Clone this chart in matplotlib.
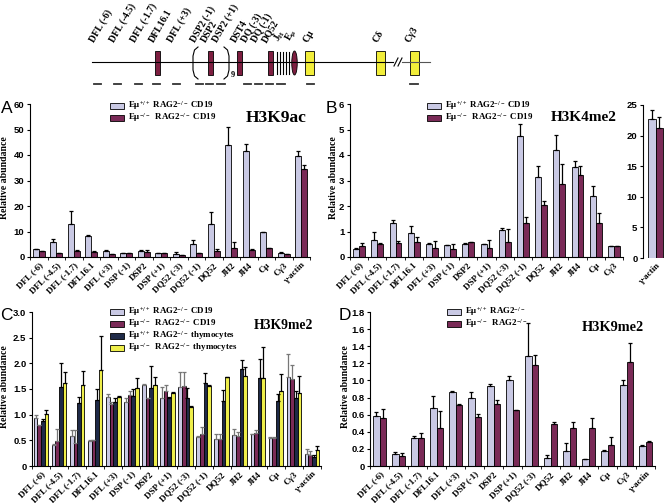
import numpy as np
import matplotlib.pyplot as plt
from matplotlib.patches import Rectangle, Ellipse

plt.rcParams['mathtext.default'] = 'regular'

SERIF = 'Liberation Serif'
SANS = 'Liberation Sans'
W, H = 664, 503

light = '#c9c9e4'
maroon = '#7a2a57'
navy = '#1f2a48'
yellow = '#eeee4a'

# ---- данные: панель A (H3K9ac)
cats_a = ['DFL (-6)', 'DFL (-4.5)', 'DFL (-1.7)', 'DFL16.1', 'DFL (+3)', 'DSP (-1)', 'DSP2',
          'DSP (+1)', 'DQ52 (-3)', 'DQ52 (-1)', 'DQ52', 'JH2', 'JH4', 'Cμ', 'Cγ3', 'γ-actin']
a_wt = [3.0, 5.9, 13.1, 8.1, 2.3, 1.4, 2.3, 1.5, 1.2, 5.2, 13.0, 44.0, 41.5, 9.8, 1.6, 39.5]
a_wt_err = [3.3, 7.0, 18.0, 8.5, 2.6, 1.4, 2.7, 1.5, 1.8, 6.8, 17.5, 51.0, 44.5, 9.8, 1.8, 41.5]
a_ko = [2.2, 1.5, 2.5, 2.0, 1.2, 1.4, 2.0, 1.5, 0.8, 1.4, 2.5, 3.5, 2.8, 3.5, 1.2, 34.5]
a_ko_err = [2.2, 1.5, 2.7, 2.4, 1.2, 1.4, 2.7, 1.5, 0.8, 1.4, 3.0, 6.0, 3.3, 3.5, 1.2, 36.0]

# ---- панель B (H3K4me2), γ-actin отдельно
cats_b = cats_a[:15]
b_wt = [0.33, 0.68, 1.35, 0.93, 0.52, 0.47, 0.50, 0.52, 1.05, 4.75, 3.12, 4.20, 3.52, 2.38, 0.42]
b_wt_err = [0.36, 1.00, 1.45, 1.20, 0.54, 0.49, 0.53, 0.52, 1.13, 5.20, 3.55, 4.80, 3.75, 2.77, 0.45]
b_ko = [0.43, 0.52, 0.55, 0.60, 0.37, 0.32, 0.58, 0.37, 0.60, 1.33, 2.03, 2.85, 3.20, 1.32, 0.42]
b_ko_err = [0.55, 0.56, 0.62, 0.78, 0.63, 0.50, 0.60, 0.66, 1.10, 1.57, 2.18, 3.63, 3.57, 1.74, 0.45]
b_actin = [22.7, 21.3]
b_actin_err = [24.2, 23.1]

# ---- панель C (H3K9me2, 4 серии)
cats_c = cats_a
c_vals = [
    [0.94, 0.40, 0.58, 0.48, 1.34, 1.24, 1.58, 1.32, 1.54, 0.56, 0.52, 0.61, 0.62, 0.54, 1.73, 0.23],
    [0.80, 0.48, 0.45, 0.50, 1.20, 1.39, 1.33, 1.46, 1.55, 0.63, 0.52, 0.58, 0.64, 0.54, 1.69, 0.22],
    [0.88, 1.53, 1.22, 1.28, 1.24, 1.36, 1.52, 1.32, 1.32, 1.61, 1.27, 1.88, 1.72, 1.26, 1.33, 0.17],
    [1.02, 1.61, 1.57, 1.87, 1.35, 1.52, 1.58, 1.42, 1.15, 1.55, 1.73, 1.76, 1.72, 1.47, 1.43, 0.31],
]
c_err = [
    [1.00, 0.42, 0.70, 0.50, 1.41, 1.32, 1.60, 1.53, 1.83, 0.58, 0.63, 0.72, 0.63, 0.56, 2.19, 0.34],
    [0.80, 0.72, 0.70, 0.50, 1.25, 1.46, 1.33, 1.58, 1.84, 0.76, 0.63, 0.66, 0.70, 0.56, 1.96, 0.30],
    [0.92, 2.00, 1.35, 1.50, 1.33, 1.50, 1.94, 1.35, 1.51, 1.82, 1.48, 2.06, 2.08, 1.41, 1.47, 0.22],
    [1.10, 1.83, 1.86, 2.53, 1.37, 1.71, 1.74, 1.44, 1.16, 1.58, 1.74, 1.93, 2.31, 1.80, 1.76, 0.38],
]

# ---- панель D (H3K9me2, без DQ52 (-1))
cats_d = [c for c in cats_a if c != 'DQ52 (-1)']
d_wt = [0.59, 0.14, 0.33, 0.68, 0.86, 0.79, 0.94, 1.01, 1.28, 0.09, 0.17, 0.08, 0.17, 0.95, 0.23]
d_wt_err = [0.63, 0.16, 0.35, 0.82, 0.88, 0.86, 0.96, 1.05, 1.67, 0.13, 0.27, 0.08, 0.19, 1.00, 0.24]
d_ko = [0.56, 0.12, 0.33, 0.45, 0.71, 0.57, 0.73, 0.65, 1.18, 0.49, 0.45, 0.45, 0.25, 1.22, 0.28]
d_ko_err = [0.67, 0.15, 0.39, 0.64, 0.72, 0.61, 0.77, 0.66, 1.30, 0.51, 0.51, 0.56, 0.34, 1.44, 0.29]

leg_cd19 = ['Eμ$^{+/+}$ RAG2$^{-/-}$ CD19', 'Eμ$^{-/-}$  RAG2$^{-/-}$ CD19']
leg_thy = ['Eμ$^{+/+}$ RAG2$^{-/-}$ thymocytes', 'Eμ$^{-/-}$  RAG2$^{-/-}$ thymocytes']
leg_d = ['Eμ$^{+/+}$ RAG2$^{-/-}$', 'Eμ$^{-/-}$  RAG2$^{-/-}$']


def rect(x0, y0, x1, y1):
    # пиксели -> доли фигуры
    return [x0 / W, 1 - y1 / H, (x1 - x0) / W, (y1 - y0) / H]


def bars(ax, series, tops, colors, width, ecolors):
    n = len(series)
    x = np.arange(len(series[0]))
    for k in range(n):
        pos = x + (k - (n - 1) / 2) * width
        v = np.array(series[k])
        t = np.array(tops[k])
        ax.bar(pos, v, width, color=colors[k], edgecolor='black', linewidth=0.6, zorder=2)
        ax.errorbar(pos, v, yerr=[np.zeros_like(v), np.clip(t - v, 0, None)], fmt='none',
                    ecolor=ecolors[k], elinewidth=0.9, capsize=1.5, capthick=0.9, zorder=3)


def style(ax, cats, yticks, ylabels, ylim):
    n = len(cats)
    ax.set_xlim(-0.5, n - 0.5)
    ax.set_ylim(*ylim)
    for s in ['top', 'right']:
        ax.spines[s].set_visible(False)
    ax.set_xticks(range(n))
    ax.set_xticklabels(cats, rotation=45, ha='right', rotation_mode='anchor',
                       fontfamily=SERIF, fontweight='bold', fontsize=6.5)
    ax.set_xticks(np.arange(n + 1) - 0.5, minor=True)
    ax.tick_params(axis='x', which='major', length=0, pad=3)
    ax.tick_params(axis='x', which='minor', length=2.5)
    ax.set_yticks(yticks)
    ax.set_yticklabels(ylabels, fontfamily=SANS, fontweight='bold', fontsize=6.8)
    ax.tick_params(axis='y', length=2.5, pad=1.5)


def legend(x, ys, labels, colors):
    for y, lab, c in zip(ys, labels, colors):
        fig.add_artist(Rectangle((x / W, 1 - (y + 3) / H), 14 / W, 6 / H, facecolor=c,
                                 edgecolor='black', linewidth=0.6, transform=fig.transFigure))
        fig.text((x + 18) / W, 1 - y / H, lab, fontfamily=SERIF, fontweight='bold',
                 fontsize=6.4, va='center', ha='left')


def ylabel(x, y):
    fig.text(x / W, 1 - y / H, 'Relative abundance', rotation=90, ha='center', va='center',
             fontfamily=SERIF, fontweight='bold', fontsize=7)


def letter(x, y, s):
    fig.text(x / W, 1 - y / H, s, fontfamily=SANS, fontsize=12.5, va='top')


fig = plt.figure(figsize=(W / 100, H / 100), dpi=100)

# ---- схема локуса
axd = fig.add_axes([0, 1 - 95 / H, 1, 95 / H])
axd.set_xlim(0, W)
axd.set_ylim(95, 0)
axd.axis('off')
axd.plot([92, 393], [62, 62], color='black', lw=0.8)
axd.plot([402, 430], [62, 62], color='#555555', lw=0.8)
for dx in [0, 4]:
    axd.plot([394 + dx, 398 + dx], [66, 58], color='black', lw=0.8)
box_maroon = [157, 210.5, 239.5, 270]
for xc in box_maroon:
    axd.add_patch(Rectangle((xc - 2.5, 51), 5, 24, facecolor='#7d1e40', edgecolor='black', lw=0.6))
jh_x = [277, 280, 283, 286, 289]
for xj in jh_x:
    axd.plot([xj, xj], [52, 74], color='black', lw=0.8)
axd.add_patch(Ellipse((294.5, 63), 5.5, 24, facecolor='#7d1e40', edgecolor='black', lw=0.6))
box_yellow = [309.5, 380.5, 414.5]
for xc in box_yellow:
    axd.add_patch(Rectangle((xc - 4.5, 51), 9, 24, facecolor='#f2ee3a', edgecolor='black', lw=0.6))
axd.plot([198, 194.5, 193, 193, 194.5, 198], [47, 50, 56, 70, 76, 79], color='black', lw=0.8)
axd.plot([224, 227.5, 229, 229, 227.5, 224], [47, 50, 56, 70, 76, 79], color='black', lw=0.8)
axd.text(231, 77, '9', fontfamily=SERIF, fontweight='bold', fontsize=6)
diag_labels = ['DFL (-6)', 'DFL (-4.5)', 'DFL (-1.7)', 'DFL16.1', 'DFL (+3)', 'DSP2 (-1)', 'DSP2',
               'DSP2 (+1)', 'DST4', 'DQ (-3)', 'DQ (-1)', 'DQ52', 'J$_{H}$', 'E$_{μ}$', 'Cμ', 'Cδ', 'Cγ3']
diag_x = [96, 116, 137, 156, 174, 197, 208, 219, 238, 248, 258, 268, 282, 294, 309, 379, 411]
for lab, xl in zip(diag_labels, diag_x):
    axd.text(xl, 44, lab, rotation=60, rotation_mode='anchor', ha='left', va='bottom',
             fontfamily=SERIF, fontweight='bold', fontsize=7)
dash_x = [(94, 101), (114, 121), (135, 142), (153, 160), (173, 180), (196, 203), (206, 213),
          (217, 225), (244, 251), (255, 262), (266, 273), (277, 285), (307, 314), (410, 418)]
for x0, x1 in dash_x:
    axd.plot([x0, x1], [84, 84], color='#333333', lw=1.3)

# ---- A
axA = fig.add_axes(rect(30, 104, 310, 257))
bars(axA, [a_wt, a_ko], [a_wt_err, a_ko_err], [light, maroon], 0.33, ['black', 'black'])
style(axA, cats_a, range(0, 61, 10), [str(v) for v in range(0, 61, 10)], (0, 60))
axA.text(0.88, 0.91, 'H3K9ac', transform=axA.transAxes, ha='center', va='center',
         fontfamily=SERIF, fontweight='bold', fontsize=12.5)
legend(110, [106, 118], leg_cd19, [light, maroon])
ylabel(5, 178)
letter(1, 101, 'A')

# ---- B
axB = fig.add_axes(rect(350, 104, 623, 257))
bars(axB, [b_wt, b_ko], [b_wt_err, b_ko_err], [light, maroon], 0.32, ['black', 'black'])
style(axB, cats_b, range(0, 7), [str(v) for v in range(0, 7)], (0, 6))
axB.text(0.855, 0.91, 'H3K4me2', transform=axB.transAxes, ha='center', va='center',
         fontfamily=SERIF, fontweight='bold', fontsize=11)
legend(427, [106, 118], leg_cd19, [light, maroon])
ylabel(333, 178)
letter(326, 101, 'B')

axB2 = fig.add_axes(rect(643, 105, 668, 258))
bars(axB2, [[b_actin[0]], [b_actin[1]]], [[b_actin_err[0]], [b_actin_err[1]]], [light, maroon], 0.33,
     ['black', 'black'])
style(axB2, ['γ-actin'], range(0, 26, 5), [str(v) for v in range(0, 26, 5)], (0, 25))
axB2.set_xlim(-0.55, 0.55)
axB2.spines['bottom'].set_visible(False)
axB2.tick_params(axis='x', which='minor', length=0)

# ---- C
axC = fig.add_axes(rect(32, 312, 321, 466))
bars(axC, c_vals, c_err, [light, maroon, navy, yellow], 0.2,
     ['#777777', '#777777', 'black', 'black'])
cy = np.arange(0, 3.01, 0.5)
style(axC, cats_c, cy, ['0'] + ['%.1f' % v for v in cy[1:]], (0, 3.0))
axC.text(0.87, 0.915, 'H3K9me2', transform=axC.transAxes, ha='center', va='center',
         fontfamily=SERIF, fontweight='bold', fontsize=9.8)
legend(110, [312, 324, 336, 348], leg_cd19 + leg_thy, [light, maroon, navy, yellow])
ylabel(5, 387)
letter(0, 308, 'C')

# ---- D
axD = fig.add_axes(rect(370, 312, 655, 466))
bars(axD, [d_wt, d_ko], [d_wt_err, d_ko_err], [light, maroon], 0.36, ['black', 'black'])
dy = np.arange(0, 1.81, 0.2)
style(axD, cats_d, dy, ['0'] + ['%.1f' % v for v in dy[1:]], (0, 1.8))
axD.text(0.85, 0.90, 'H3K9me2', transform=axD.transAxes, ha='center', va='center',
         fontfamily=SERIF, fontweight='bold', fontsize=10.3)
legend(447, [312, 324], leg_d, [light, maroon])
ylabel(345, 387)
letter(339, 308, 'D')

fig.savefig('out.png', dpi=100)
